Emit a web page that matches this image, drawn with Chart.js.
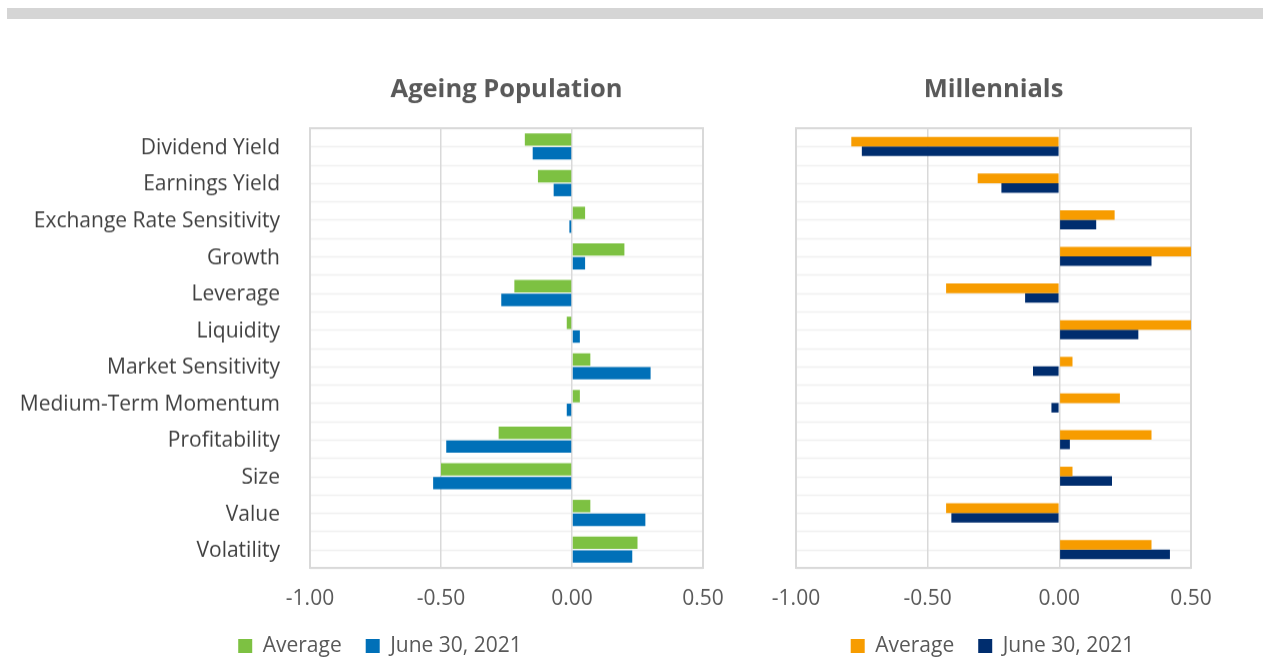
<!DOCTYPE html>
<html>
<head>
<meta charset="utf-8">
<script src="https://cdn.jsdelivr.net/npm/chart.js@4.4.0/dist/chart.umd.min.js"></script>
<style>
  html, body { margin: 0; padding: 0; background: #fff; width: 1267px; height: 661px; overflow: hidden; }
  #topRule { position: absolute; left: 7px; top: 8px; width: 1256px; height: 11px; background: #d5d5d5; }
  .panel { position: absolute; top: 30px; height: 635.5px; }
  #ageingBox { left: 0px; width: 745px; }
  #millBox { left: 750px; width: 490px; }
</style>
</head>
<body>
<div id="topRule"></div>
<div class="panel" id="ageingBox"><canvas id="ageing"></canvas></div>
<div class="panel" id="millBox"><canvas id="millennials"></canvas></div>
<script>
// Style factors shared by both panels
const categories = [
  'Dividend Yield', 'Earnings Yield', 'Exchange Rate Sensitivity', 'Growth',
  'Leverage', 'Liquidity', 'Market Sensitivity', 'Medium-Term Momentum',
  'Profitability', 'Size', 'Value', 'Volatility'
];

// Ageing Population exposures
const ageingAverage = [-0.18, -0.13, 0.05, 0.20, -0.22, -0.02, 0.07, 0.03, -0.28, -0.50, 0.07, 0.25];
const ageingJune2021 = [-0.15, -0.07, -0.01, 0.05, -0.27, 0.03, 0.30, -0.02, -0.48, -0.53, 0.28, 0.23];

// Millennials exposures
const millennialsAverage = [-0.79, -0.31, 0.21, 0.51, -0.43, 0.51, 0.05, 0.23, 0.35, 0.05, -0.43, 0.35];
const millennialsJune2021 = [-0.75, -0.22, 0.14, 0.35, -0.13, 0.30, -0.10, -0.03, 0.04, 0.20, -0.41, 0.42];

const seriesNames = ['Average', 'June 30, 2021'];
const xMin = -1.0, xMax = 0.5, xStep = 0.5;

Chart.defaults.font.family = "'Open Sans', 'Noto Sans', sans-serif";
Chart.defaults.color = '#595959';

// Horizontal guide lines at every half category, plus the panel frame
const panelGrid = {
  id: 'panelGrid',
  beforeDraw(chart) {
    const { ctx, chartArea: a, scales: { y } } = chart;
    ctx.save();
    ctx.strokeStyle = '#f0f0f0';
    ctx.lineWidth = 1.5;
    for (let k = 0; k <= categories.length * 2; k++) {
      const py = Math.round(y.getPixelForValue(k / 2 - 0.5)) + 0.5;
      ctx.beginPath();
      ctx.moveTo(a.left, py);
      ctx.lineTo(a.right, py);
      ctx.stroke();
    }
    ctx.restore();
  },
  beforeDatasetsDraw(chart) {
    const { ctx, chartArea: a } = chart;
    ctx.save();
    ctx.strokeStyle = '#d9d9d9';
    ctx.lineWidth = 2;
    ctx.strokeRect(a.left, a.top, a.right - a.left, a.bottom - a.top);
    ctx.restore();
  }
};

function makePanel(canvasId, title, avg, june, colors, opts) {
  return new Chart(document.getElementById(canvasId), {
    type: 'bar',
    data: {
      labels: categories,
      datasets: [
        { label: seriesNames[0], data: avg, backgroundColor: colors[0],
          barPercentage: opts.barPct, categoryPercentage: opts.catPct },
        { label: seriesNames[1], data: june, backgroundColor: colors[1],
          barPercentage: opts.barPct, categoryPercentage: opts.catPct }
      ]
    },
    options: {
      indexAxis: 'y',
      responsive: true,
      maintainAspectRatio: false,
      animation: false,
      layout: { padding: { left: opts.padLeft, right: opts.padRight, top: 0, bottom: 0 } },
      scales: {
        x: {
          min: xMin, max: xMax,
          ticks: {
            stepSize: xStep,
            padding: 18.3,
            color: '#595959',
            font: { size: 21 },
            callback: v => Number(v).toFixed(2)
          },
          grid: { color: '#d9d9d9', lineWidth: 1.5, drawTicks: false },
          border: { display: false },
          // tick padding + one line of label text
          afterFit: s => { s.height = 43.5; }
        },
        y: {
          ticks: {
            display: opts.showLabels,
            padding: 30,
            labelOffset: 1.5,
            color: '#404040',
            font: { size: 21 },
            autoSkip: false
          },
          grid: { display: false, drawTicks: false },
          border: { display: false },
          afterFit: s => {
            s.width = opts.axisWidth;
            // let long factor names run into the left margin
            s._computeLabelArea = () => null;
          }
        }
      },
      plugins: {
        title: {
          display: true,
          text: title,
          fullSize: false,
          color: '#595959',
          font: { size: 25.5, weight: 'bold' },
          padding: { top: 44.7, bottom: 22.7 }
        },
        legend: {
          position: 'bottom',
          labels: {
            boxWidth: 14, boxHeight: 14,
            padding: 24,
            color: '#595959',
            font: { size: 21 }
          }
        },
        tooltip: { enabled: false }
      }
    },
    plugins: [panelGrid]
  });
}

makePanel('ageing', 'Ageing Population', ageingAverage, ageingJune2021,
  ['#7dc142', '#0070b8'],
  { barPct: 0.9, catPct: 0.75, padLeft: 57, axisWidth: 253, padRight: 42, showLabels: true });

makePanel('millennials', 'Millennials', millennialsAverage, millennialsJune2021,
  ['#f79c00', '#002d6e'],
  { barPct: 1.0, catPct: 0.52, padLeft: 44, axisWidth: 2, padRight: 49, showLabels: false });
</script>
</body>
</html>
